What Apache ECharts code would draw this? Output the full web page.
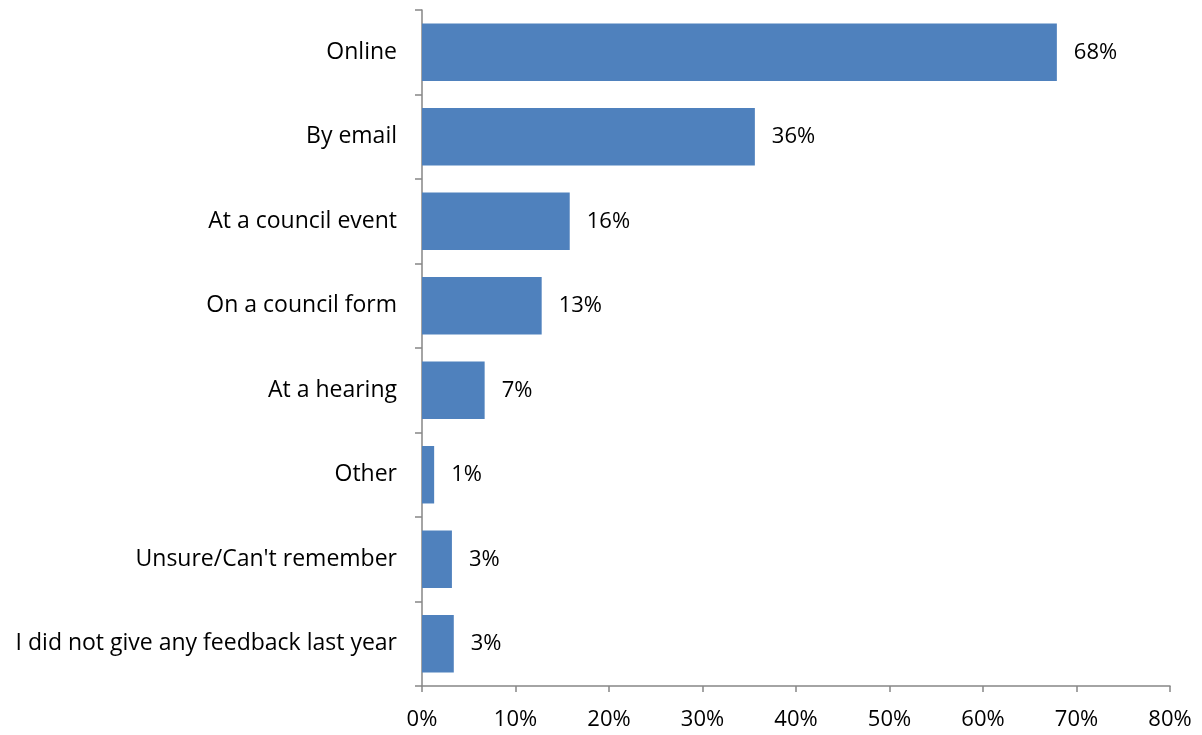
<!DOCTYPE html>
<html>
<head>
<meta charset="utf-8">
<script src="https://cdn.jsdelivr.net/npm/echarts@6/dist/echarts.min.js"></script>
<style>
  html, body { margin: 0; padding: 0; background: #fff; }
  #chart { width: 1202px; height: 735px; }
</style>
</head>
<body>
<div id="chart"></div>
<script>
// Ways respondents gave feedback (share of respondents, %)
const categories = [
  'Online',
  'By email',
  'At a council event',
  'On a council form',
  'At a hearing',
  'Other',
  "Unsure/Can't remember",
  'I did not give any feedback last year'
];
const shares = [67.9, 35.6, 15.8, 12.8, 6.7, 1.3, 3.2, 3.4];
const xTicks = [0, 10, 20, 30, 40, 50, 60, 70, 80];

const FONT = '"Open Sans", "Liberation Sans", sans-serif';
const FONT_SIZE = 22;
const AXIS_GREY = '#868686';

const chart = echarts.init(document.getElementById('chart'), null, { renderer: 'canvas' });
chart.setOption({
  animation: false,
  backgroundColor: '#ffffff',
  grid: { left: 422, right: 32, top: 10, bottom: 49, containLabel: false },
  xAxis: {
    type: 'value',
    min: xTicks[0],
    max: xTicks[xTicks.length - 1],
    interval: xTicks[1] - xTicks[0],
    splitLine: { show: false },
    axisLine: { show: true, lineStyle: { color: AXIS_GREY, width: 1.5 } },
    axisTick: { show: true, length: 6, lineStyle: { color: AXIS_GREY, width: 1.5 } },
    axisLabel: {
      margin: 23,
      color: '#000',
      fontFamily: FONT,
      fontSize: FONT_SIZE,
      formatter: v => v + '%'
    }
  },
  yAxis: {
    type: 'category',
    inverse: true,
    data: categories,
    axisLine: { show: true, lineStyle: { color: AXIS_GREY, width: 1.5 } },
    axisTick: { show: true, length: 7, lineStyle: { color: AXIS_GREY, width: 1.5 } },
    axisLabel: {
      margin: 25,
      color: '#000',
      fontFamily: FONT,
      fontSize: 23
    }
  },
  series: [{
    type: 'bar',
    data: shares,
    barCategoryGap: '32%',
    itemStyle: { color: '#4f81bd' },
    label: {
      show: true,
      position: 'right',
      distance: 17,
      color: '#000',
      fontFamily: FONT,
      fontSize: FONT_SIZE,
      formatter: p => Math.round(p.value) + '%'
    }
  }]
});
</script>
</body>
</html>
